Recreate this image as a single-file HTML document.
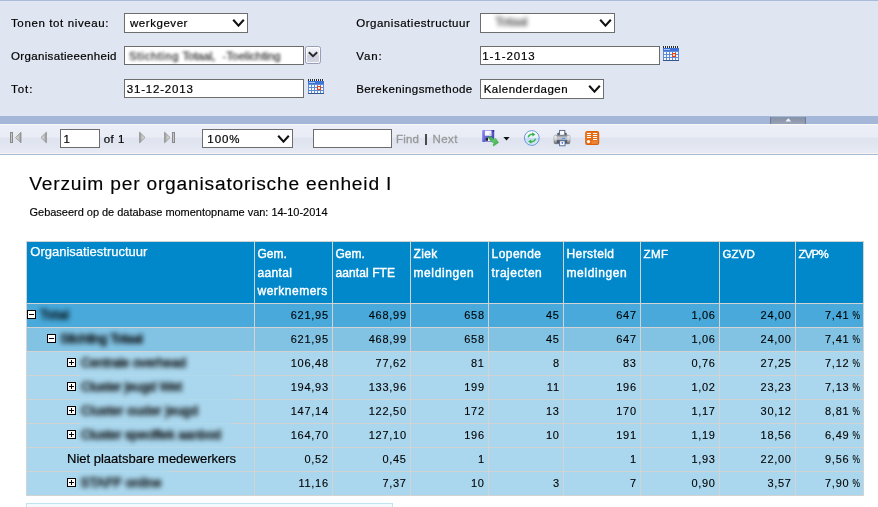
<!DOCTYPE html>
<html>
<head>
<meta charset="utf-8">
<title>Verzuim per organisatorische eenheid I</title>
<style>
html,body{margin:0;padding:0;}
body{width:878px;height:507px;overflow:hidden;background:#fff;position:relative;font-family:"Liberation Sans",sans-serif;color:#000;}
#wrap{position:absolute;left:0;top:0;width:878px;height:507px;overflow:hidden;will-change:transform;}
.abs{position:absolute;}
#params{left:0;top:0;width:878px;height:116px;background:#dfe6f1;}
#topline{left:0;top:0;width:878px;height:1px;background:#a9badb;}
.lbl{position:absolute;font-size:11.5px;line-height:14px;white-space:nowrap;color:#000;-webkit-text-stroke:0.2px #000;}
.box{position:absolute;background:#fff;border:1px solid #6d6d6d;box-sizing:border-box;}
.box span{position:absolute;top:2px;font-size:11.5px;line-height:14px;white-space:nowrap;-webkit-text-stroke:0.2px #000;}
.sel{height:20px;}
.inp{height:19px;}
.inp span{top:2px;}
.chev{position:absolute;right:2.3px;top:4.8px;width:13px;height:8px;}
#sep{left:0;top:116px;width:878px;height:8px;background:#a4b7d8;}
#toolbar{left:0;top:124px;width:878px;height:30px;background:linear-gradient(#f8f8f4 0px,#f8f8f4 1px,#eceff7 1px,#e9ecf5 13px,#dee3ef 14.5px,#e2e6f1 22px,#e8ebf4 29px,#f7f5ee 29px,#f7f5ee 30px);}
#tbline{left:0;top:154px;width:878px;height:1px;background:#a9badb;}
.tt{position:absolute;font-size:11.5px;line-height:14px;white-space:nowrap;top:132px;-webkit-text-stroke:0.2px #000;}
.g{color:#999;}
.h1{font-size:13px;line-height:15px;color:#fff;white-space:nowrap;letter-spacing:0px;-webkit-text-stroke:0.25px #fff;}
.hb{font-size:12px;line-height:14px;color:#fff;-webkit-text-stroke:0.4px #fff;white-space:nowrap;}
.num{font-size:11px;line-height:13px;white-space:nowrap;letter-spacing:0.72px;margin-right:-0.72px;word-spacing:-2.7px;-webkit-text-stroke:0.12px #000;}
.pc{display:inline-block;transform:scaleX(.76);transform-origin:100% 50%;}
.nb{font-size:13px;line-height:15px;white-space:nowrap;-webkit-text-stroke:0.2px #000;}
.pb{font-size:11.5px;line-height:14px;white-space:nowrap;color:#000;filter:blur(1.7px);opacity:.8;-webkit-text-stroke:0.3px #000;}
.bl{font-size:13px;line-height:15px;white-space:nowrap;overflow:visible;color:#000;filter:blur(2.4px);-webkit-text-stroke:0.8px #000;opacity:.88;}
</style>
</head>
<body>
<div id="wrap">
<div id="params" class="abs"></div>
<div id="topline" class="abs"></div>

<div class="lbl" style="left:11px;top:16px;letter-spacing:0.62px;">Tonen tot niveau:</div>
<div class="lbl" style="left:11px;top:49px;letter-spacing:0.34px;">Organisatieeenheid</div>
<div class="lbl" style="left:11px;top:82px;letter-spacing:0.98px;">Tot:</div>
<div class="lbl" style="left:356.2px;top:16px;letter-spacing:0.53px;">Organisatiestructuur</div>
<div class="lbl" style="left:356.2px;top:49px;letter-spacing:0.9px;">Van:</div>
<div class="lbl" style="left:356.2px;top:82px;letter-spacing:0.43px;">Berekeningsmethode</div>

<div class="box sel" style="left:124px;top:13px;width:124px;"><span style="left:5px;letter-spacing:0.55px;">werkgever</span>
<svg class="chev" viewBox="0 0 13 8"><path d="M1.2 0.8 L6.5 6.6 L11.8 0.8" fill="none" stroke="#111" stroke-width="2.1"/></svg></div>

<div class="box inp" style="left:124px;top:46px;width:180px;"></div>
<div class="abs pb" style="left:129px;top:48.5px;letter-spacing:0.7px;">Stichting</div>
<div class="abs pb" style="left:182.5px;top:48.5px;letter-spacing:-0.2px;">Totaal,</div>
<div class="abs pb" style="left:222.5px;top:48.5px;letter-spacing:0px;">-Toelichting</div>
<!-- dropdown button -->
<div class="abs" style="left:305px;top:46px;width:16px;height:18px;box-sizing:border-box;border:1px solid #9a9db8;border-radius:2.5px;background:linear-gradient(#f6f7fa 0%,#e4e6ee 45%,#cfd2de 55%,#d3d6e2 100%);box-shadow:inset 0 0 0 1px rgba(255,255,255,.8);"></div>
<svg class="abs" style="left:308px;top:51px" width="10" height="7" viewBox="0 0 10 7"><path d="M0.8 1.2 L5 5.2 L9.2 1.2" fill="none" stroke="#2a2a2a" stroke-width="2"/></svg>

<div class="box inp" style="left:124px;top:79px;width:180px;"><span style="left:1.8px;letter-spacing:0.8px;">31-12-2013</span></div>

<div class="box sel" style="left:480px;top:13px;width:135px;">
<svg class="chev" viewBox="0 0 13 8"><path d="M1.2 0.8 L6.5 6.6 L11.8 0.8" fill="none" stroke="#111" stroke-width="2.1"/></svg></div>
<div class="abs pb" style="left:495px;top:14.5px;font-size:13px;font-weight:bold;letter-spacing:-0.9px;opacity:.5;filter:blur(2.3px)">Totaal</div>

<div class="box inp" style="left:480px;top:46px;width:180px;"><span style="left:1.3px;letter-spacing:0.92px;">1-1-2013</span></div>
<div class="box sel" style="left:480px;top:79px;width:124px;"><span style="left:2.7px;letter-spacing:0.49px;">Kalenderdagen</span>
<svg class="chev" viewBox="0 0 13 8"><path d="M1.2 0.8 L6.5 6.6 L11.8 0.8" fill="none" stroke="#111" stroke-width="2.1"/></svg></div>

<!-- calendar icons -->
<svg class="abs" style="left:308px;top:79px" width="16" height="15" viewBox="0 0 16 15"><use href="#cal"/></svg>
<svg class="abs" style="left:663px;top:46px" width="16" height="15" viewBox="0 0 16 15"><use href="#cal"/></svg>

<svg width="0" height="0" style="position:absolute">
<defs>
<g id="cal">
<rect x="0" y="1.5" width="16" height="13.5" fill="#5f8ad6"/>
<rect x="0" y="0" width="16" height="2" fill="#e8eef8"/>
<path d="M0.5 0v2M2.5 0v2M4.5 0v2M6.5 0v2M8.5 0v2M10.5 0v2M12.5 0v2M14.5 0v2" stroke="#2b2b2b" stroke-width="1"/>
<rect x="0" y="2" width="16" height="3" fill="#3f73d6"/>
<rect x="1" y="3" width="6" height="1" fill="#a9c4f2"/>
<g fill="#f4f8ff">
<rect x="1" y="6" width="2" height="2"/><rect x="4" y="6" width="2" height="2"/><rect x="7" y="6" width="2" height="2"/><rect x="10" y="6" width="2" height="2"/><rect x="13" y="6" width="2" height="2"/>
<rect x="1" y="9" width="2" height="2"/><rect x="4" y="9" width="2" height="2"/><rect x="7" y="9" width="2" height="2"/><rect x="13" y="9" width="2" height="2"/>
<rect x="1" y="12" width="2" height="2"/><rect x="4" y="12" width="2" height="2"/><rect x="7" y="12" width="2" height="2"/><rect x="10" y="12" width="2" height="2"/><rect x="13" y="12" width="2" height="2"/>
</g>
<rect x="9.5" y="7.5" width="3" height="3" fill="#fde0c8" stroke="#e8401a" stroke-width="1"/>
<rect x="0" y="14" width="16" height="1" fill="#34558f"/>
</g>
</defs>
</svg>

<div id="sep" class="abs"></div>
<!-- collapse handle -->
<div class="abs" style="left:770px;top:117px;width:36px;height:6.5px;background:linear-gradient(#8793a9,#8d98ae 50%,#98a3b8);border-left:1px solid #6f7b91;border-right:1px solid #6f7b91;box-sizing:border-box;"></div>
<svg class="abs" style="left:784.5px;top:118px" width="7" height="4" viewBox="0 0 7 4"><path d="M0.3 3.4 L3.3 0.2 L6.3 3.4 Z" fill="#eef1f7"/></svg>

<div id="toolbar" class="abs"></div>
<div id="tbline" class="abs"></div>

<!-- nav icons -->
<svg class="abs" style="left:9px;top:131px" width="14" height="13" viewBox="0 0 14 13">
<defs><linearGradient id="gl" x1="0" x2="1" y1="0" y2="0"><stop offset="0" stop-color="#e2e2e2"/><stop offset=".6" stop-color="#c2c2c2"/><stop offset="1" stop-color="#909090"/></linearGradient>
<linearGradient id="gr" x1="0" x2="1" y1="0" y2="0"><stop offset="0" stop-color="#909090"/><stop offset=".4" stop-color="#c2c2c2"/><stop offset="1" stop-color="#e2e2e2"/></linearGradient></defs>
<rect x="1.5" y="1.5" width="2" height="10" fill="#c6c6c6" stroke="#8a8a8a" stroke-width="1"/>
<path d="M6.6 6.5 L12 1.2 L12 11.8 Z" fill="url(#gl)" stroke="#8e8e8e" stroke-width=".8"/>
</svg>
<svg class="abs" style="left:40px;top:131px" width="8" height="13" viewBox="0 0 8 13">
<path d="M1 6.5 L6.4 1.2 L6.4 11.8 Z" fill="url(#gl)" stroke="#8e8e8e" stroke-width=".8"/>
</svg>
<svg class="abs" style="left:138px;top:131px" width="8" height="13" viewBox="0 0 8 13">
<path d="M7 6.5 L1.6 1.2 L1.6 11.8 Z" fill="url(#gr)" stroke="#8e8e8e" stroke-width=".8"/>
</svg>
<svg class="abs" style="left:163px;top:131px" width="14" height="13" viewBox="0 0 14 13">
<path d="M7 6.5 L1.6 1.2 L1.6 11.8 Z" fill="url(#gr)" stroke="#8e8e8e" stroke-width=".8"/>
<rect x="9.5" y="1.5" width="2" height="10" fill="#c6c6c6" stroke="#8a8a8a" stroke-width="1"/>
</svg>

<div class="box inp" style="left:60px;top:129px;width:40px;"><span style="left:2.4px;">1</span></div>
<div class="tt" style="left:103.8px;letter-spacing:0.3px;word-spacing:0.6px;">of 1</div>
<div class="box inp" style="left:202px;top:129px;width:91px;"><span style="left:4.3px;letter-spacing:0.95px;">100%</span>
<svg class="chev" style="top:4.5px" viewBox="0 0 13 8"><path d="M1.2 0.8 L6.5 6.6 L11.8 0.8" fill="none" stroke="#111" stroke-width="2.1"/></svg></div>
<div class="box inp" style="left:313px;top:129px;width:79px;"></div>
<div class="tt g" style="left:396px;letter-spacing:0.15px;-webkit-text-stroke:0.3px #999;">Find</div>
<div class="abs" style="left:425.2px;top:133.5px;width:1.8px;height:11px;background:#4a4a4a;"></div>
<div class="tt g" style="left:432.5px;letter-spacing:0.45px;-webkit-text-stroke:0.3px #999;">Next</div>

<!-- save icon -->
<svg class="abs" style="left:482px;top:129px" width="17" height="18" viewBox="0 0 17 18">
<defs><linearGradient id="fl" x1="0" x2="1" y1="0" y2="0.6"><stop offset="0" stop-color="#8f8df2"/><stop offset=".5" stop-color="#6664dc"/><stop offset="1" stop-color="#4846b6"/></linearGradient>
<linearGradient id="ga" x1="0" x2="1" y1="0" y2="1"><stop offset="0" stop-color="#2f9a3e"/><stop offset=".5" stop-color="#5fc868"/><stop offset="1" stop-color="#36a846"/></linearGradient></defs>
<rect x="0.2" y="1" width="12" height="12" rx="0.8" fill="url(#fl)"/>
<rect x="10.6" y="1" width="1.6" height="1.6" fill="#2c2a80"/>
<rect x="2.9" y="1.6" width="6.5" height="5.1" fill="#f6f6fb"/>
<rect x="7" y="4.2" width="2.4" height="2.5" fill="#d9dcec"/>
<rect x="3.4" y="8.6" width="6" height="3.8" fill="#eeeef6"/>
<rect x="3.4" y="8.6" width="2.6" height="3.2" fill="#20203c"/>
<path d="M6 8.6 L8 7 L12.2 10.6 L13.6 9.2 L16.6 13.6 L11.4 17.2 L11.2 15 L12.2 14 L9.4 12.8 Z" fill="url(#ga)" stroke="#3aa24a" stroke-width=".4"/>
</svg>
<svg class="abs" style="left:503px;top:136.6px" width="7" height="4" viewBox="0 0 7 4"><path d="M0.4 0 L6.6 0 L3.5 3.6 Z" fill="#111"/></svg>

<!-- refresh icon -->
<svg class="abs" style="left:523px;top:129px" width="18" height="18" viewBox="0 0 18 18">
<defs><linearGradient id="rf" x1="0" x2="0" y1="0" y2="1"><stop offset="0" stop-color="#ffffff"/><stop offset=".5" stop-color="#e6effb"/><stop offset=".5" stop-color="#c2d9f5"/><stop offset="1" stop-color="#dbe9fa"/></linearGradient></defs>
<circle cx="8.8" cy="9" r="7.4" fill="url(#rf)" stroke="#6a98dc" stroke-width="1"/>
<path d="M5.2 8.4 A3.8 3.8 0 0 1 10 5.4" fill="none" stroke="#3bb549" stroke-width="1.5"/>
<path d="M9.2 3.2 L12.4 5.4 L9.4 7.4 Z" fill="#35b044"/>
<path d="M12.4 9.6 A3.8 3.8 0 0 1 7.6 12.6" fill="none" stroke="#3bb549" stroke-width="1.5"/>
<path d="M8.4 14.8 L5.2 12.6 L8.2 10.6 Z" fill="#35b044"/>
</svg>

<!-- print icon -->
<svg class="abs" style="left:553px;top:129px" width="18" height="18" viewBox="0 0 18 18">
<defs><linearGradient id="pr" x1="0" x2="0" y1="0" y2="1"><stop offset="0" stop-color="#8a8d93"/><stop offset=".3" stop-color="#c9cbd0"/><stop offset=".55" stop-color="#a7a9af"/><stop offset=".62" stop-color="#5a5d63"/><stop offset="1" stop-color="#4e5157"/></linearGradient>
<linearGradient id="pc" x1="0" x2="0" y1="0" y2="1"><stop offset="0" stop-color="#efeff1"/><stop offset=".5" stop-color="#d0d1d5"/><stop offset="1" stop-color="#6f7278"/></linearGradient></defs>
<rect x="4.2" y="3.8" width="9.6" height="3" rx="1" fill="#5c6068"/>
<rect x="6.6" y="1.4" width="5.2" height="5" fill="#fbfcff" stroke="#4b617f" stroke-width=".9"/>
<rect x="1" y="6.2" width="16" height="8.6" rx="1.6" fill="url(#pr)" stroke="#7a7d84" stroke-width=".5"/>
<rect x="1.2" y="6.6" width="2.6" height="7.8" rx="1.1" fill="url(#pc)"/>
<rect x="14.2" y="6.6" width="2.6" height="7.8" rx="1.1" fill="url(#pc)"/>
<rect x="8.8" y="8.8" width="3.4" height="1.2" fill="#4a9af4"/>
<rect x="6.6" y="11.8" width="5.4" height="5" fill="#f7faff" stroke="#4b6a9c" stroke-width=".9"/>
<rect x="8.6" y="13.2" width="1.4" height="1.4" fill="#2c46d8"/>
</svg>

<!-- export feed icon -->
<svg class="abs" style="left:585px;top:131px" width="15" height="14" viewBox="0 0 15 14">
<defs><linearGradient id="og" x1="0" x2="1" y1="0" y2="1"><stop offset="0" stop-color="#e9741c"/><stop offset="1" stop-color="#e4650e"/></linearGradient></defs>
<rect x="0.2" y="0.1" width="14" height="13.8" rx="2" fill="#d85c0a"/>
<rect x="0.9" y="0.8" width="12.6" height="12.4" rx="1.4" fill="url(#og)"/>
<rect x="6.6" y="9.6" width="6.4" height="3.4" fill="#f0924a" opacity=".6"/>
<path d="M2 2.5h4M2 4.5h4M2 6.5h4M8 2.5h4.2M8 4.5h4.2M8 6.5h4.2M8 8.5h4.2" stroke="#fff" stroke-width="1"/>
<circle cx="3.5" cy="10.6" r="1.6" fill="#fff"/>
</svg>

<!-- report title -->
<div class="abs" style="left:29.3px;top:172.5px;font-size:19.2px;line-height:22px;white-space:nowrap;letter-spacing:0.79px;color:#000;-webkit-text-stroke:0.15px #000;">Verzuim per organisatorische eenheid I</div>
<div class="abs" style="left:29.5px;top:206px;font-size:11px;line-height:13px;white-space:nowrap;letter-spacing:-0.02px;-webkit-text-stroke:0.15px #000;">Gebaseerd op de database momentopname van: 14-10-2014</div>

<div class="abs" style="left:27px;top:242px;width:836px;height:61px;background:#0088cb"></div>
<div class="abs" style="left:27px;top:304px;width:836px;height:23px;background:#48a9da"></div>
<div class="abs" style="left:27px;top:328px;width:836px;height:23px;background:#82c3e4"></div>
<div class="abs" style="left:27px;top:352px;width:836px;height:23px;background:#aad7ed"></div>
<div class="abs" style="left:27px;top:376px;width:836px;height:23px;background:#aad7ed"></div>
<div class="abs" style="left:27px;top:400px;width:836px;height:23px;background:#aad7ed"></div>
<div class="abs" style="left:27px;top:424px;width:836px;height:23px;background:#aad7ed"></div>
<div class="abs" style="left:27px;top:448px;width:836px;height:23px;background:#aad7ed"></div>
<div class="abs" style="left:27px;top:472px;width:836px;height:23px;background:#aad7ed"></div>
<div class="abs" style="left:26px;top:241px;width:838px;height:1px;background:#d3d3d3"></div>
<div class="abs" style="left:26px;top:303px;width:838px;height:1px;background:#d3d3d3"></div>
<div class="abs" style="left:26px;top:327px;width:838px;height:1px;background:#d3d3d3"></div>
<div class="abs" style="left:26px;top:351px;width:838px;height:1px;background:#d3d3d3"></div>
<div class="abs" style="left:26px;top:375px;width:838px;height:1px;background:#d3d3d3"></div>
<div class="abs" style="left:26px;top:399px;width:838px;height:1px;background:#d3d3d3"></div>
<div class="abs" style="left:26px;top:423px;width:838px;height:1px;background:#d3d3d3"></div>
<div class="abs" style="left:26px;top:447px;width:838px;height:1px;background:#d3d3d3"></div>
<div class="abs" style="left:26px;top:471px;width:838px;height:1px;background:#d3d3d3"></div>
<div class="abs" style="left:26px;top:495px;width:838px;height:1px;background:#d3d3d3"></div>
<div class="abs" style="left:26px;top:241px;width:1px;height:255px;background:#d3d3d3"></div>
<div class="abs" style="left:254px;top:241px;width:1px;height:255px;background:#d3d3d3"></div>
<div class="abs" style="left:332px;top:241px;width:1px;height:255px;background:#d3d3d3"></div>
<div class="abs" style="left:410px;top:241px;width:1px;height:255px;background:#d3d3d3"></div>
<div class="abs" style="left:488px;top:241px;width:1px;height:255px;background:#d3d3d3"></div>
<div class="abs" style="left:563px;top:241px;width:1px;height:255px;background:#d3d3d3"></div>
<div class="abs" style="left:640px;top:241px;width:1px;height:255px;background:#d3d3d3"></div>
<div class="abs" style="left:719px;top:241px;width:1px;height:255px;background:#d3d3d3"></div>
<div class="abs" style="left:795px;top:241px;width:1px;height:255px;background:#d3d3d3"></div>
<div class="abs" style="left:863px;top:241px;width:1px;height:255px;background:#d3d3d3"></div>
<div class="abs" style="left:80px;top:375px;width:151px;height:1px;background:#afd9ed"></div>
<div class="abs" style="left:80px;top:399px;width:151px;height:1px;background:#afd9ed"></div>
<div class="abs" style="left:80px;top:423px;width:151px;height:1px;background:#afd9ed"></div>
<div class="abs" style="left:80px;top:447px;width:151px;height:1px;background:#b8d9e8"></div>
<div class="abs" style="left:80px;top:471px;width:90px;height:1px;background:#b3d9eb"></div>
<div class="abs h1" style="left:30.3px;top:244.4px;">Organisatiestructuur</div>
<div class="abs hb" style="left:257.5px;top:247.0px;letter-spacing:0.02px">Gem.</div>
<div class="abs hb" style="left:257.5px;top:265.5px;letter-spacing:0.36px">aantal</div>
<div class="abs hb" style="left:257.5px;top:284.0px;letter-spacing:0.5px">werknemers</div>
<div class="abs hb" style="left:335.5px;top:247.0px;letter-spacing:0.02px">Gem.</div>
<div class="abs hb" style="left:335.5px;top:265.5px;letter-spacing:0.09px">aantal FTE</div>
<div class="abs hb" style="left:413.5px;top:247.0px;letter-spacing:0.4px">Ziek</div>
<div class="abs hb" style="left:413.5px;top:265.5px;letter-spacing:0.6px">meldingen</div>
<div class="abs hb" style="left:491.5px;top:247.0px;letter-spacing:0.46px">Lopende</div>
<div class="abs hb" style="left:491.5px;top:265.5px;letter-spacing:0.53px">trajecten</div>
<div class="abs hb" style="left:566.5px;top:247.0px;letter-spacing:0.4px">Hersteld</div>
<div class="abs hb" style="left:566.5px;top:265.5px;letter-spacing:0.6px">meldingen</div>
<div class="abs hb" style="left:643.5px;top:247.0px;letter-spacing:0.4px;font-size:11.5px">ZMF</div>
<div class="abs hb" style="left:722.5px;top:247.0px;letter-spacing:0.12px;font-size:11.5px">GZVD</div>
<div class="abs hb" style="left:798.5px;top:247.0px;letter-spacing:-0.8px;font-size:11.5px">ZVP%</div>
<div class="abs num" style="right:550px;top:309px;">621,95</div>
<div class="abs num" style="right:472px;top:309px;">468,99</div>
<div class="abs num" style="right:394px;top:309px;">658</div>
<div class="abs num" style="right:319px;top:309px;">45</div>
<div class="abs num" style="right:242px;top:309px;">647</div>
<div class="abs num" style="right:163px;top:309px;">1,06</div>
<div class="abs num" style="right:87px;top:309px;">24,00</div>
<div class="abs num" style="right:17.799999999999955px;top:309px;">7,41 <span class="pc">%</span></div>
<svg class="abs" style="left:27px;top:310px" width="9" height="9" viewBox="0 0 9 9"><rect x="0.5" y="0.5" width="8" height="8" fill="#fff" stroke="#000" stroke-width="1"/><path d="M2 4.5h5" stroke="#000" stroke-width="1"/></svg>
<div class="abs bl" style="left:40px;top:307px;letter-spacing:0.383px;">Total</div>
<div class="abs num" style="right:550px;top:333px;">621,95</div>
<div class="abs num" style="right:472px;top:333px;">468,99</div>
<div class="abs num" style="right:394px;top:333px;">658</div>
<div class="abs num" style="right:319px;top:333px;">45</div>
<div class="abs num" style="right:242px;top:333px;">647</div>
<div class="abs num" style="right:163px;top:333px;">1,06</div>
<div class="abs num" style="right:87px;top:333px;">24,00</div>
<div class="abs num" style="right:17.799999999999955px;top:333px;">7,41 <span class="pc">%</span></div>
<svg class="abs" style="left:47px;top:334px" width="9" height="9" viewBox="0 0 9 9"><rect x="0.5" y="0.5" width="8" height="8" fill="#fff" stroke="#000" stroke-width="1"/><path d="M2 4.5h5" stroke="#000" stroke-width="1"/></svg>
<div class="abs bl" style="left:60px;top:331px;letter-spacing:-0.329px;">Stichting Totaal</div>
<div class="abs num" style="right:550px;top:357px;">106,48</div>
<div class="abs num" style="right:472px;top:357px;">77,62</div>
<div class="abs num" style="right:394px;top:357px;">81</div>
<div class="abs num" style="right:319px;top:357px;">8</div>
<div class="abs num" style="right:242px;top:357px;">83</div>
<div class="abs num" style="right:163px;top:357px;">0,76</div>
<div class="abs num" style="right:87px;top:357px;">27,25</div>
<div class="abs num" style="right:17.799999999999955px;top:357px;">7,12 <span class="pc">%</span></div>
<svg class="abs" style="left:67px;top:358px" width="9" height="9" viewBox="0 0 9 9"><rect x="0.5" y="0.5" width="8" height="8" fill="#fff" stroke="#000" stroke-width="1"/><path d="M2 4.5h5" stroke="#000" stroke-width="1"/><path d="M4.5 2v5" stroke="#000" stroke-width="1"/></svg>
<div class="abs bl" style="left:81px;top:355px;letter-spacing:-0.123px;">Centrale overhead</div>
<div class="abs num" style="right:550px;top:381px;">194,93</div>
<div class="abs num" style="right:472px;top:381px;">133,96</div>
<div class="abs num" style="right:394px;top:381px;">199</div>
<div class="abs num" style="right:319px;top:381px;">11</div>
<div class="abs num" style="right:242px;top:381px;">196</div>
<div class="abs num" style="right:163px;top:381px;">1,02</div>
<div class="abs num" style="right:87px;top:381px;">23,23</div>
<div class="abs num" style="right:17.799999999999955px;top:381px;">7,13 <span class="pc">%</span></div>
<svg class="abs" style="left:67px;top:382px" width="9" height="9" viewBox="0 0 9 9"><rect x="0.5" y="0.5" width="8" height="8" fill="#fff" stroke="#000" stroke-width="1"/><path d="M2 4.5h5" stroke="#000" stroke-width="1"/><path d="M4.5 2v5" stroke="#000" stroke-width="1"/></svg>
<div class="abs bl" style="left:81px;top:379px;letter-spacing:-0.131px;">Cluster jeugd Wet</div>
<div class="abs num" style="right:550px;top:405px;">147,14</div>
<div class="abs num" style="right:472px;top:405px;">122,50</div>
<div class="abs num" style="right:394px;top:405px;">172</div>
<div class="abs num" style="right:319px;top:405px;">13</div>
<div class="abs num" style="right:242px;top:405px;">170</div>
<div class="abs num" style="right:163px;top:405px;">1,17</div>
<div class="abs num" style="right:87px;top:405px;">30,12</div>
<div class="abs num" style="right:17.799999999999955px;top:405px;">8,81 <span class="pc">%</span></div>
<svg class="abs" style="left:67px;top:406px" width="9" height="9" viewBox="0 0 9 9"><rect x="0.5" y="0.5" width="8" height="8" fill="#fff" stroke="#000" stroke-width="1"/><path d="M2 4.5h5" stroke="#000" stroke-width="1"/><path d="M4.5 2v5" stroke="#000" stroke-width="1"/></svg>
<div class="abs bl" style="left:81px;top:403px;letter-spacing:0.196px;">Cluster ouder jeugd</div>
<div class="abs num" style="right:550px;top:429px;">164,70</div>
<div class="abs num" style="right:472px;top:429px;">127,10</div>
<div class="abs num" style="right:394px;top:429px;">196</div>
<div class="abs num" style="right:319px;top:429px;">10</div>
<div class="abs num" style="right:242px;top:429px;">191</div>
<div class="abs num" style="right:163px;top:429px;">1,19</div>
<div class="abs num" style="right:87px;top:429px;">18,56</div>
<div class="abs num" style="right:17.799999999999955px;top:429px;">6,49 <span class="pc">%</span></div>
<svg class="abs" style="left:67px;top:430px" width="9" height="9" viewBox="0 0 9 9"><rect x="0.5" y="0.5" width="8" height="8" fill="#fff" stroke="#000" stroke-width="1"/><path d="M2 4.5h5" stroke="#000" stroke-width="1"/><path d="M4.5 2v5" stroke="#000" stroke-width="1"/></svg>
<div class="abs bl" style="left:81px;top:427px;letter-spacing:-0.103px;">Cluster specifiek aanbod</div>
<div class="abs num" style="right:550px;top:453px;">0,52</div>
<div class="abs num" style="right:472px;top:453px;">0,45</div>
<div class="abs num" style="right:394px;top:453px;">1</div>
<div class="abs num" style="right:242px;top:453px;">1</div>
<div class="abs num" style="right:163px;top:453px;">1,93</div>
<div class="abs num" style="right:87px;top:453px;">22,00</div>
<div class="abs num" style="right:17.799999999999955px;top:453px;">9,56 <span class="pc">%</span></div>
<div class="abs nb" style="left:67px;top:450.5px;letter-spacing:0.0px;">Niet plaatsbare medewerkers</div>
<div class="abs num" style="right:550px;top:477px;">11,16</div>
<div class="abs num" style="right:472px;top:477px;">7,37</div>
<div class="abs num" style="right:394px;top:477px;">10</div>
<div class="abs num" style="right:319px;top:477px;">3</div>
<div class="abs num" style="right:242px;top:477px;">7</div>
<div class="abs num" style="right:163px;top:477px;">0,90</div>
<div class="abs num" style="right:87px;top:477px;">3,57</div>
<div class="abs num" style="right:17.799999999999955px;top:477px;">7,90 <span class="pc">%</span></div>
<svg class="abs" style="left:67px;top:478px" width="9" height="9" viewBox="0 0 9 9"><rect x="0.5" y="0.5" width="8" height="8" fill="#fff" stroke="#000" stroke-width="1"/><path d="M2 4.5h5" stroke="#000" stroke-width="1"/><path d="M4.5 2v5" stroke="#000" stroke-width="1"/></svg>
<div class="abs bl" style="left:80.5px;top:475px;letter-spacing:0.226px;">STAFF online</div>

<!-- next box -->
<div class="abs" style="left:26px;top:503px;width:367px;height:10px;box-sizing:border-box;border:1px solid #bfe3f1;background:#f3fafd;"></div>
</div>
</body>
</html>
